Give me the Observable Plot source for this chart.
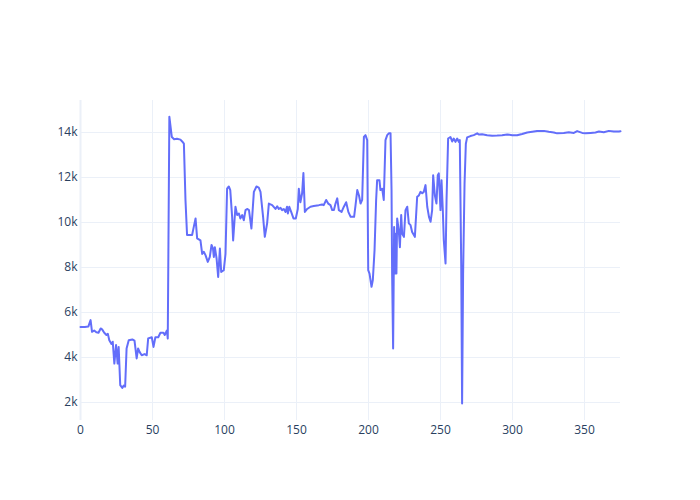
<!DOCTYPE html>
<html>
<head>
<meta charset="utf-8">
<script src="https://cdn.jsdelivr.net/npm/d3@7"></script>
<script src="https://cdn.jsdelivr.net/npm/@observablehq/plot@0.6"></script>
<style>
  html, body { margin: 0; padding: 0; background: #fff; }
  #chart { width: 700px; height: 500px; }
</style>
</head>
<body>
<div id="chart"></div>
<script>
// x positions (index) and values
const xs = [0,3,5.5,7,8,9.5,11,12.5,14,15,16.5,18,19,20,21.5,22.4,23.5,24.7,25.8,26.5,27.6,29,30,31,32,33.5,36,37.5,39,40,41,42.5,44.5,46,47,49.5,50.7,52,54,55.5,57.6,58.5,60,60.6,61.7,63.4,65,67,69.4,70.6,71.8,72.9,74,75.5,77.5,78.2,79.9,81,83.3,84.5,85.6,86.8,88.4,89.8,91,92,92.6,93.3,94.5,95.6,96.8,97.7,99.5,100.7,101.8,103,104,105.3,106,107.6,108.8,110,111,112.3,113.4,114.6,115.7,117,118.7,120.4,122.2,123.8,125,126.8,128,129.6,130.8,133.1,135.4,136.6,137.7,138.9,140,141.2,142.4,143.4,144,145,146.3,147.9,149.5,150.9,151.6,152.7,153.9,154.8,155.8,157.4,159.7,162,165.5,167.8,168.9,170.6,172,173.6,174.8,176,177.1,178.3,179.4,181.3,182.9,184.5,186,187.6,190,191,192.2,193.4,194.5,195.6,196.8,197.9,199.1,199.8,200.7,202.1,203,204.2,205.3,206,207.6,208.3,209.5,210.6,211.8,213,214.1,215.3,216,216.4,217.1,217.8,218.5,219,219.4,219.9,221,221.8,222.7,223.4,224.6,225.7,226.9,228,229.2,230.3,232.2,233.8,235,236.1,237.3,238.4,239.6,240.8,242,243.1,244.2,244.9,246.1,247.2,248.1,248.8,250,250.7,251.6,252.3,253.5,254.2,255.3,256.9,258.1,259.2,260.4,261.6,262.7,263.4,264.4,265,265.7,266.7,267.6,268.5,270.8,273.1,275.5,276.6,278.9,282.4,285.9,289.4,292.8,296.3,299.8,303.2,306.7,310.2,313.7,317.1,321.8,325.2,328.7,331,335.6,339.1,342.6,344.9,348.4,350.7,354.2,357.6,360,363.4,366.9,370.4,373.8,375];
const values = [5360,5360,5380,5660,5140,5200,5120,5100,5290,5250,5100,5000,5050,4770,4600,4700,3730,4550,3730,4470,2770,2650,2750,2700,4400,4770,4800,4750,3960,4400,4250,4100,4150,4100,4850,4900,4470,4900,4900,5100,5100,5000,5200,4840,14700,13800,13700,13720,13680,13600,13500,11000,9440,9440,9440,9660,10180,9290,9200,8600,8700,8550,8250,8470,9000,8840,8470,8900,8400,7580,8840,7800,7880,8600,11500,11600,11440,10250,9200,10700,10330,10400,10180,10330,10100,10550,10600,10550,9730,11360,11600,11550,11360,10250,9360,9960,10840,10770,10600,10720,10600,10650,10550,10600,10470,10700,10400,10700,10470,10180,10180,10600,11500,10900,11300,12200,10470,10600,10700,10730,10770,10800,10770,11000,10840,10770,10550,10550,10840,11070,10550,10470,10700,10900,10470,10250,10250,10770,11440,11200,10840,11000,13800,13880,13660,7880,7730,7140,7440,8770,11000,11880,11880,11440,11500,11000,13660,13880,13960,13960,11440,7730,4400,9800,7730,9500,7730,10180,9660,8900,10330,9500,9360,10550,10700,9960,9880,9580,9360,11140,11200,11360,11300,11360,11660,10700,10250,10030,10550,12100,11200,10840,12100,12180,10550,11880,10550,9200,8180,11000,13730,13800,13600,13730,13580,13730,13580,13660,8030,1960,7730,11730,13500,13780,13840,13880,13960,13910,13920,13880,13850,13860,13880,13910,13880,13880,13930,14000,14030,14060,14070,14030,14000,13960,13980,14010,13980,14060,13980,13960,13980,14000,14040,14010,14070,14040,14040,14050];
const xTicks = [0,50,100,150,200,250,300,350];
const yTicks = [2000,4000,6000,8000,10000,12000,14000];

const data = xs.map((x, i) => ({x, y: values[i]}));
const gridColor = "#ebf0f8";
const textColor = "#2a3f5f";

const chart = Plot.plot({
  width: 700,
  height: 500,
  marginLeft: 80,
  marginRight: 80,
  marginTop: 100,
  marginBottom: 80,
  style: {fontFamily: "'Open Sans', sans-serif", fontSize: "12px", color: textColor, background: "#fff"},
  x: {domain: [0, 375], ticks: xTicks, label: null},
  y: {domain: [1200, 15420], ticks: yTicks, label: null, tickFormat: d3.format("~s")},
  marks: [
    Plot.gridX(xTicks, {stroke: gridColor, strokeOpacity: 1, strokeWidth: 1}),
    Plot.gridY(yTicks, {stroke: gridColor, strokeOpacity: 1, strokeWidth: 1}),
    Plot.ruleX([0], {stroke: gridColor, strokeOpacity: 1, strokeWidth: 2}),
    Plot.axisX(xTicks, {tickSize: 0, tickPadding: 5, fill: textColor, fontSize: 12}),
    Plot.axisY(yTicks, {tickSize: 0, tickPadding: 3, fill: textColor, fontSize: 12, tickFormat: d3.format("~s")}),
    Plot.line(data, {x: "x", y: "y", stroke: "#636efa", strokeWidth: 2, strokeLinejoin: "round"})
  ]
});
document.getElementById("chart").appendChild(chart);
</script>
</body>
</html>
